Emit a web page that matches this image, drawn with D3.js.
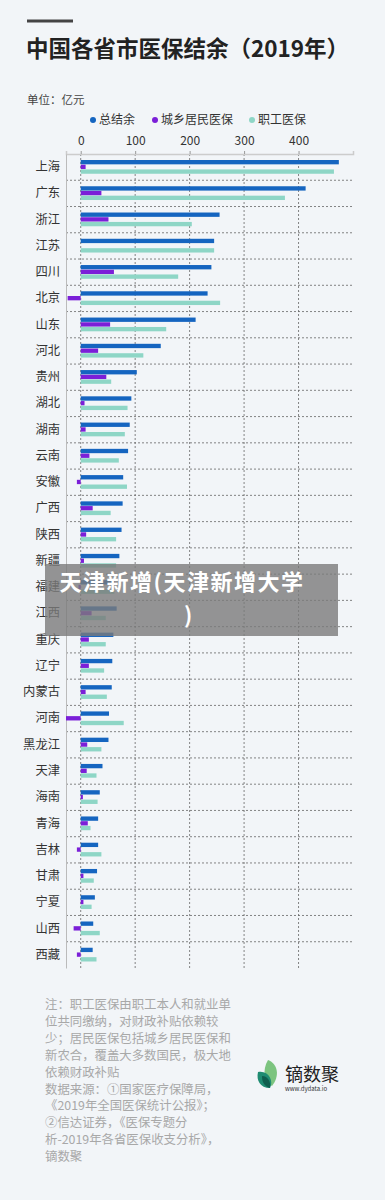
<!DOCTYPE html>
<html>
<head>
<meta charset="utf-8">
<script src="https://cdn.jsdelivr.net/npm/d3@7"></script>
<style>
  body { margin: 0; background: #f2f5f8; font-family: "Noto Sans CJK SC", "Noto Sans", sans-serif; }
  svg { display: block; }
</style>
</head>
<body>
<div id="viz"></div>
<script>
var width = 385,
    height = 1200;

// provinces, top to bottom
var provinces = ["上海","广东","浙江","江苏","四川","北京","山东","河北","贵州","湖北",
  "湖南","云南","安徽","广西","陕西","新疆","福建","江西","重庆","辽宁",
  "内蒙古","河南","黑龙江","天津","海南","青海","吉林","甘肃","宁夏","山西","西藏"];

// 亿元
var totalBalance = [474,413,255,245,240,233,211,147,103,93,
  90,87,78,77,75,71,63,66,60,58,
  57,52,51,40,35,32,32,30,26,23,22];
var residentBalance = [9,38,51,0,61,-24,54,32,47,7,
  9,16,-7,22,10,6,-4,20,15,15,
  9,-27,12,11,4,13,-7,5,5,-13,-7];
var employeeBalance = [465,375,204,245,179,256,157,115,56,86,
  81,70,85,55,65,65,62,46,46,43,
  48,79,38,29,31,18,38,24,20,35,29];

var seriesNames = ["总结余","城乡居民医保","职工医保"];
var seriesColors = ["#1565c0","#7b1fd8","#8ed6c6"];
var xTicks = [0,100,200,300,400];

var notes = [
  "注：职工医保由职工本人和就业单",
  "位共同缴纳，对财政补贴依赖较",
  "少；居民医保包括城乡居民医保和",
  "新农合，覆盖大多数国民，极大地",
  "依赖财政补贴",
  "数据来源：①国家医疗保障局，",
  "《2019年全国医保统计公报》；",
  "②信达证券，《医保专题分",
  "析-2019年各省医保收支分析》，",
  "镝数聚"
];

var svg = d3.select("#viz")
    .append("svg")
    .attr("width", width)
    .attr("height", height);

svg.append("rect").attr("width", width).attr("height", height).attr("fill", "#f2f5f8");

// ****************** Header ***************************
svg.append("rect").attr("x", 27).attr("y", 19.5).attr("width", 46).attr("height", 3).attr("fill", "#444");

svg.append("text")
    .attr("x", 26).attr("y", 57)
    .style("font-size", "22.5px").style("font-weight", "bold").attr("fill", "#222")
    .text("中国各省市医保结余（2019年）");

svg.append("text")
    .attr("x", 27).attr("y", 104)
    .style("font-size", "11.5px").attr("fill", "#444")
    .text("单位：亿元");

var legendX = [93, 155, 252];
var legend = svg.append("g").selectAll("g")
    .data(seriesNames)
    .enter().append("g")
    .attr("transform", function(d, i) { return "translate(" + legendX[i] + ",124)"; });
legend.append("circle").attr("r", 3).attr("cy", -4).attr("fill", function(d, i) { return seriesColors[i]; });
legend.append("text").attr("x", 6).style("font-size", "12px").attr("fill", "#333").text(function(d) { return d; });

// ****************** Chart ***************************
var margin = {top: 154, left: 66, right: 353, bottom: 968};

var x = d3.scaleLinear()
    .domain([-27, 500])
    .range([margin.left, margin.right]);

var y = d3.scaleBand()
    .domain(provinces)
    .range([margin.top, margin.bottom]);

var sub = d3.scaleBand()
    .domain(seriesNames)
    .range([6, y.bandwidth() - 6.5])
    .paddingInner(0.08);

// grid
var grid = svg.append("g").attr("stroke", "#666").attr("stroke-width", 0.8).attr("stroke-dasharray", "2,2");
grid.selectAll(".v")
    .data(xTicks)
    .enter().append("line")
    .attr("x1", function(d) { return x(d); }).attr("x2", function(d) { return x(d); })
    .attr("y1", margin.top).attr("y2", margin.bottom);
grid.selectAll(".h")
    .data(provinces.slice(1))
    .enter().append("line")
    .attr("x1", margin.left).attr("x2", margin.right)
    .attr("y1", function(d) { return y(d); }).attr("y2", function(d) { return y(d); });

// top axis
var xAxis = svg.append("g")
    .attr("transform", "translate(0," + margin.top + ")")
    .call(d3.axisTop(x).tickValues(xTicks).tickSize(3).tickPadding(6));
xAxis.select(".domain").attr("stroke", "#ccc").attr("stroke-width", 1.5);
xAxis.selectAll(".tick line").attr("stroke", "#999");
xAxis.selectAll("text").style("font-size", "12px").attr("fill", "#333")
    .style("font-family", "'Noto Sans CJK SC', sans-serif");

// left axis
var yAxis = svg.append("g")
    .attr("transform", "translate(" + margin.left + ",0)")
    .call(d3.axisLeft(y).tickSize(0).tickPadding(6));
yAxis.select(".domain").attr("stroke", "#bbb");
yAxis.selectAll("text").style("font-size", "12.3px").attr("fill", "#333")
    .style("font-family", "'Noto Sans CJK SC', sans-serif");

// bars
var seriesData = [totalBalance, residentBalance, employeeBalance];
seriesData.forEach(function(values, s) {
  svg.append("g").selectAll("rect")
      .data(provinces)
      .enter().append("rect")
      .attr("x", function(d, i) { return x(Math.min(0, values[i])); })
      .attr("y", function(d) { return y(d) + sub(seriesNames[s]); })
      .attr("width", function(d, i) { return Math.abs(x(values[i]) - x(0)); })
      .attr("height", sub.bandwidth())
      .attr("fill", seriesColors[s]);
});

// ****************** Footer ***************************
svg.append("g").selectAll("text")
    .data(notes)
    .enter().append("text")
    .attr("x", 45)
    .attr("y", function(d, i) { return 1009 + i * 16.9; })
    .style("font-size", "12.4px").attr("fill", "#a8a8a8")
    .text(function(d) { return d; });

// logo
var logo = svg.append("g").attr("transform", "translate(258,1074)");
logo.append("path").attr("d", "M10,-14 C20,-10 22,2 14,12 C6,8 4,-4 10,-14 Z").attr("fill", "#7cc47f");
logo.append("path").attr("d", "M0,-2 C10,-4 16,6 12,14 C2,14 -2,6 0,-2 Z").attr("fill", "#1f8c72");
logo.append("path").attr("d", "M4,2 C10,2 13,8 12,14 C6,12 4,8 4,2 Z").attr("fill", "#0f5e4e");
logo.append("text").attr("x", 27).attr("y", 7).style("font-size", "18px").attr("fill", "#222").text("镝数聚");
logo.append("text").attr("x", 27).attr("y", 17).style("font-size", "6px").attr("fill", "#333").text("www.dydata.io");

// ****************** Overlay ***************************
svg.append("rect")
    .attr("x", 45).attr("y", 564).attr("width", 293).attr("height", 72)
    .attr("fill", "#7a7a7a").attr("opacity", 0.8);
var overlay = svg.append("text")
    .attr("text-anchor", "middle")
    .style("font-size", "22px").style("font-weight", "bold").style("letter-spacing", "1.5px")
    .attr("fill", "#fff");
overlay.append("tspan").attr("x", 182).attr("y", 590).text("天津新增(天津新增大学");
overlay.append("tspan").attr("x", 189).attr("y", 622.5).text(")");
</script>
</body>
</html>
